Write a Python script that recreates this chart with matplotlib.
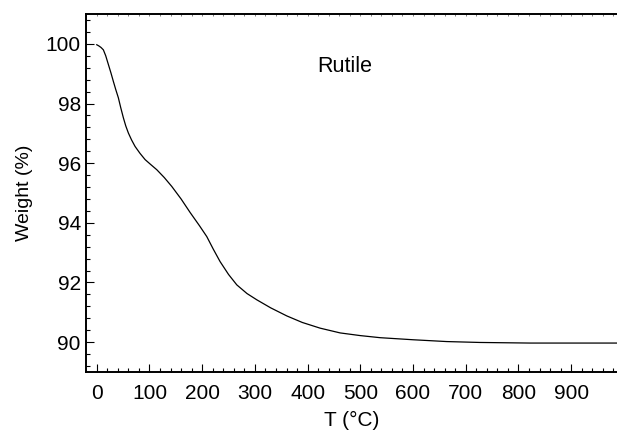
import numpy as np
import matplotlib.pyplot as plt
from matplotlib.ticker import MultipleLocator

plt.rcParams['font.family'] = ['Liberation Sans', 'DejaVu Sans']

# TGA curve
temp = [0, 4, 8, 12.5, 17, 22, 27, 31.5, 36, 41, 45.5, 50.5, 55, 60, 66, 72.7,
        82, 91.7, 102, 113.9, 128, 142.3, 160, 177, 195, 208.7, 221, 234, 250,
        265.7, 285, 303.6, 330, 360.5, 390, 423.7, 461.7, 500, 537.6, 600.8,
        664, 727, 822, 987]
weight = [99.97, 99.93, 99.88, 99.80, 99.60, 99.31, 99.02, 98.74, 98.47, 98.19,
          97.86, 97.52, 97.25, 97.01, 96.78, 96.56, 96.33, 96.12, 95.96, 95.78,
          95.52, 95.22, 94.80, 94.35, 93.90, 93.54, 93.12, 92.70, 92.27, 91.92,
          91.63, 91.42, 91.15, 90.88, 90.66, 90.47, 90.31, 90.22, 90.15, 90.08,
          90.02, 89.99, 89.97, 89.97]

x_ticks = [0, 100, 200, 300, 400, 500, 600, 700, 800, 900]
y_ticks = [90, 92, 94, 96, 98, 100]

fig = plt.figure(figsize=(6.17, 4.38), dpi=100)
ax = fig.add_axes([0.140, 0.1507, 0.860, 0.8173])

ax.plot(temp, weight, color='black', lw=0.9)

ax.set_xlim(-19.7, 987)
ax.set_ylim(89, 101)
ax.set_xticks(x_ticks)
ax.set_yticks(y_ticks)
ax.xaxis.set_minor_locator(MultipleLocator(20))
ax.yaxis.set_minor_locator(MultipleLocator(0.4))

ax.spines['right'].set_visible(False)
for s in ['left', 'bottom', 'top']:
    ax.spines[s].set_linewidth(1.4)

ax.tick_params(which='both', direction='in', top=False, right=False,
               width=0.8, labelsize=15)
ax.tick_params(which='major', length=5.5)
ax.tick_params(which='minor', length=3)
ax.tick_params(axis='x', pad=9)
ax.tick_params(axis='y', pad=4)

# small ticks along the top edge
top = ax.secondary_xaxis('top')
top.set_xticks(np.arange(0, 1000, 20))
top.tick_params(direction='in', length=1.5, width=0.6, color='0.4',
                labeltop=False)
top.spines['top'].set_visible(False)

ax.set_xlabel('T (\u00b0C)', fontsize=15, labelpad=5)
ax.set_ylabel('Weight (%)', fontsize=14, labelpad=9)

ax.text(471, 99.24, 'Rutile', fontsize=15.5, ha='center', va='center')

fig.savefig('out.png', dpi=100)
